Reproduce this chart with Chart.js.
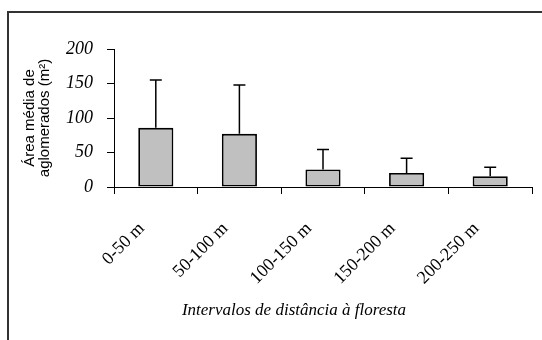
<!DOCTYPE html>
<html>
<head>
<meta charset="utf-8">
<script src="https://cdn.jsdelivr.net/npm/chart.js@4.4.0/dist/chart.umd.min.js"></script>
<style>
  html, body { margin: 0; padding: 0; background: #fff; }
  #wrap { position: relative; width: 542px; height: 340px; }
</style>
</head>
<body>
<div id="wrap"><canvas id="chart"></canvas></div>
<script>
// Mean cluster area per distance interval, with the upper error bar length
const categories = ['0-50 m', '50-100 m', '100-150 m', '150-200 m', '200-250 m'];
const means = [85.7, 77, 25.3, 20.3, 15.5];
const errors = [69.3, 71, 29, 21.4, 13.1];
const yTicks = [0, 50, 100, 150, 200];

const xTitle = 'Intervalos de distância à floresta';

// Frame, upward error bars and the x axis title
const extras = {
    id: 'extras',
    afterDatasetsDraw(chart) {
        const { ctx } = chart;
        const y = chart.scales.y;
        const meta = chart.getDatasetMeta(0);
        ctx.save();
        ctx.strokeStyle = '#000';
        ctx.lineWidth = 1.5;
        meta.data.forEach((bar, i) => {
            const top = y.getPixelForValue(means[i] + errors[i]);
            ctx.beginPath();
            ctx.moveTo(bar.x, bar.y);
            ctx.lineTo(bar.x, top);
            ctx.moveTo(bar.x - 6, top);
            ctx.lineTo(bar.x + 6, top);
            ctx.stroke();
        });
        ctx.restore();
    },
    afterDraw(chart) {
        const { ctx } = chart;
        ctx.save();
        // outer frame (top and left edges only, the rest is cropped)
        ctx.strokeStyle = '#333';
        ctx.lineWidth = 2;
        ctx.beginPath();
        ctx.moveTo(8, 340);
        ctx.lineTo(8, 12);
        ctx.lineTo(542, 12);
        ctx.stroke();
        // x axis title
        ctx.fillStyle = '#000';
        ctx.font = 'italic 17px "Liberation Serif", "Times New Roman", serif';
        ctx.textAlign = 'center';
        ctx.textBaseline = 'middle';
        ctx.fillText(xTitle, 294, 311);
        ctx.restore();
    }
};

const ctx = document.getElementById('chart');
new Chart(ctx, {
    type: 'bar',
    data: {
        labels: categories,
        datasets: [{
            data: means,
            backgroundColor: '#c0c0c0',
            borderColor: '#000',
            borderWidth: 1.8,
            borderSkipped: false,
            barPercentage: 0.42,
            categoryPercentage: 1
        }]
    },
    options: {
        responsive: true,
        maintainAspectRatio: false,
        animation: false,
        layout: { padding: { top: 49, right: 10, left: 0, bottom: 0 } },
        plugins: {
            legend: { display: false },
            tooltip: { enabled: false }
        },
        scales: {
            x: {
                grid: {
                    drawOnChartArea: false,
                    drawTicks: true,
                    tickLength: 7,
                    color: '#000',
                    offset: true
                },
                border: { display: true, color: '#000', width: 1 },
                ticks: {
                    color: '#000',
                    minRotation: 45,
                    maxRotation: 45,
                    padding: 24,
                    labelOffset: -14,
                    font: { family: '"Liberation Serif", "Times New Roman", serif', size: 18 }
                },
                afterFit(scale) { scale.height = 153; }
            },
            y: {
                min: 0,
                max: 200,
                afterBuildTicks(scale) {
                    scale.ticks = yTicks.map(v => ({ value: v }));
                },
                grid: {
                    drawOnChartArea: false,
                    drawTicks: true,
                    tickLength: 7,
                    color: '#000'
                },
                border: { display: true, color: '#000', width: 1 },
                ticks: {
                    color: '#000',
                    padding: 14,
                    font: { family: '"Liberation Serif", "Times New Roman", serif', size: 18, style: 'italic' }
                },
                title: {
                    display: true,
                    text: ['Área média de', 'aglomerados (m²)'],
                    color: '#000',
                    padding: { top: 23, bottom: 0 },
                    font: { family: '"Liberation Sans", Arial, sans-serif', size: 15, lineHeight: 0.95 }
                },
                afterFit(scale) { scale.width = 114; }
            }
        }
    },
    plugins: [extras]
});
</script>
</body>
</html>
